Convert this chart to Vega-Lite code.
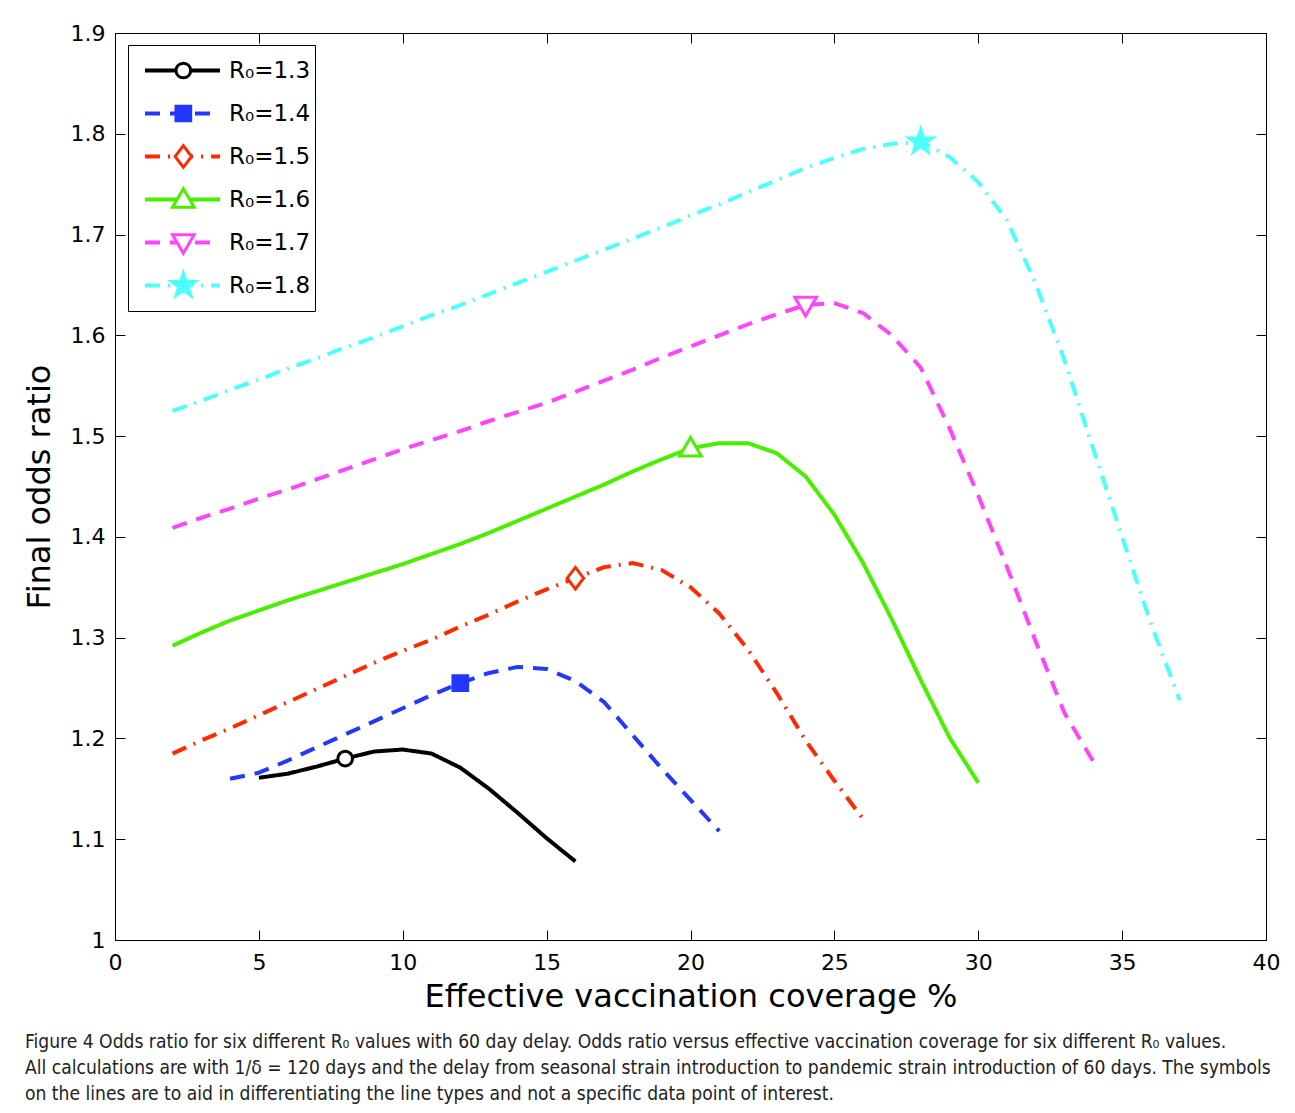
{
  "$schema": "https://vega.github.io/schema/vega-lite/v6.json",
  "width": 1151,
  "height": 907,
  "autosize": {"type": "none"},
  "padding": {"left": 115, "top": 33, "right": 29, "bottom": 173},
  "background": "white",
  "title": {
    "text": [
      "Figure 4 Odds ratio for six different R₀ values with 60 day delay. Odds ratio versus effective vaccination coverage for six different R₀ values.",
      "All calculations are with 1/δ = 120 days and the delay from seasonal strain introduction to pandemic strain introduction of 60 days. The symbols",
      "on the lines are to aid in differentiating the line types and not a specific data point of interest."
    ],
    "orient": "bottom",
    "anchor": "start",
    "frame": "group",
    "dx": -90,
    "offset": 21,
    "font": "DejaVu Sans Condensed, Liberation Sans Narrow, sans-serif",
    "fontSize": 19.1,
    "fontWeight": "normal",
    "color": "#222222",
    "lineHeight": 26
  },
  "datasets": {
    "curves": [
      {"R0": 1.3, "x": 5, "y": 1.161}, {"R0": 1.3, "x": 6, "y": 1.165}, {"R0": 1.3, "x": 7, "y": 1.172}, {"R0": 1.3, "x": 8, "y": 1.180},
      {"R0": 1.3, "x": 9, "y": 1.187}, {"R0": 1.3, "x": 10, "y": 1.189}, {"R0": 1.3, "x": 11, "y": 1.185}, {"R0": 1.3, "x": 12, "y": 1.171},
      {"R0": 1.3, "x": 13, "y": 1.150}, {"R0": 1.3, "x": 14, "y": 1.126}, {"R0": 1.3, "x": 15, "y": 1.101}, {"R0": 1.3, "x": 16, "y": 1.078},
      {"R0": 1.4, "x": 4, "y": 1.160}, {"R0": 1.4, "x": 5, "y": 1.166}, {"R0": 1.4, "x": 6, "y": 1.178}, {"R0": 1.4, "x": 7, "y": 1.191},
      {"R0": 1.4, "x": 8, "y": 1.204}, {"R0": 1.4, "x": 9, "y": 1.217}, {"R0": 1.4, "x": 10, "y": 1.230}, {"R0": 1.4, "x": 11, "y": 1.243},
      {"R0": 1.4, "x": 12, "y": 1.255}, {"R0": 1.4, "x": 13, "y": 1.265}, {"R0": 1.4, "x": 14, "y": 1.271}, {"R0": 1.4, "x": 15, "y": 1.269},
      {"R0": 1.4, "x": 16, "y": 1.257}, {"R0": 1.4, "x": 17, "y": 1.236}, {"R0": 1.4, "x": 18, "y": 1.203}, {"R0": 1.4, "x": 19, "y": 1.170},
      {"R0": 1.4, "x": 20, "y": 1.139}, {"R0": 1.4, "x": 21, "y": 1.108},
      {"R0": 1.5, "x": 2, "y": 1.185}, {"R0": 1.5, "x": 3, "y": 1.198}, {"R0": 1.5, "x": 4, "y": 1.210}, {"R0": 1.5, "x": 5, "y": 1.223},
      {"R0": 1.5, "x": 6, "y": 1.236}, {"R0": 1.5, "x": 7, "y": 1.249}, {"R0": 1.5, "x": 8, "y": 1.262}, {"R0": 1.5, "x": 9, "y": 1.275},
      {"R0": 1.5, "x": 10, "y": 1.287}, {"R0": 1.5, "x": 11, "y": 1.298}, {"R0": 1.5, "x": 12, "y": 1.311}, {"R0": 1.5, "x": 13, "y": 1.323},
      {"R0": 1.5, "x": 14, "y": 1.336}, {"R0": 1.5, "x": 15, "y": 1.348}, {"R0": 1.5, "x": 16, "y": 1.359}, {"R0": 1.5, "x": 17, "y": 1.370},
      {"R0": 1.5, "x": 18, "y": 1.374}, {"R0": 1.5, "x": 19, "y": 1.367}, {"R0": 1.5, "x": 20, "y": 1.350}, {"R0": 1.5, "x": 21, "y": 1.324},
      {"R0": 1.5, "x": 22, "y": 1.288}, {"R0": 1.5, "x": 23, "y": 1.245}, {"R0": 1.5, "x": 24, "y": 1.198}, {"R0": 1.5, "x": 25, "y": 1.158},
      {"R0": 1.5, "x": 26, "y": 1.120},
      {"R0": 1.6, "x": 2, "y": 1.292}, {"R0": 1.6, "x": 3, "y": 1.305}, {"R0": 1.6, "x": 4, "y": 1.317}, {"R0": 1.6, "x": 5, "y": 1.327},
      {"R0": 1.6, "x": 6, "y": 1.337}, {"R0": 1.6, "x": 7, "y": 1.346}, {"R0": 1.6, "x": 8, "y": 1.355}, {"R0": 1.6, "x": 9, "y": 1.364},
      {"R0": 1.6, "x": 10, "y": 1.373}, {"R0": 1.6, "x": 11, "y": 1.383}, {"R0": 1.6, "x": 12, "y": 1.393}, {"R0": 1.6, "x": 13, "y": 1.404},
      {"R0": 1.6, "x": 14, "y": 1.416}, {"R0": 1.6, "x": 15, "y": 1.428}, {"R0": 1.6, "x": 16, "y": 1.440}, {"R0": 1.6, "x": 17, "y": 1.452},
      {"R0": 1.6, "x": 18, "y": 1.465}, {"R0": 1.6, "x": 19, "y": 1.477}, {"R0": 1.6, "x": 20, "y": 1.488}, {"R0": 1.6, "x": 21, "y": 1.493},
      {"R0": 1.6, "x": 22, "y": 1.493}, {"R0": 1.6, "x": 23, "y": 1.483}, {"R0": 1.6, "x": 24, "y": 1.460}, {"R0": 1.6, "x": 25, "y": 1.422},
      {"R0": 1.6, "x": 26, "y": 1.374}, {"R0": 1.6, "x": 27, "y": 1.318}, {"R0": 1.6, "x": 28, "y": 1.258}, {"R0": 1.6, "x": 29, "y": 1.201},
      {"R0": 1.6, "x": 30, "y": 1.156},
      {"R0": 1.7, "x": 2, "y": 1.409}, {"R0": 1.7, "x": 3, "y": 1.419}, {"R0": 1.7, "x": 4, "y": 1.428}, {"R0": 1.7, "x": 5, "y": 1.438},
      {"R0": 1.7, "x": 6, "y": 1.447}, {"R0": 1.7, "x": 7, "y": 1.457}, {"R0": 1.7, "x": 8, "y": 1.467}, {"R0": 1.7, "x": 9, "y": 1.477},
      {"R0": 1.7, "x": 10, "y": 1.487}, {"R0": 1.7, "x": 11, "y": 1.496}, {"R0": 1.7, "x": 12, "y": 1.505}, {"R0": 1.7, "x": 13, "y": 1.515},
      {"R0": 1.7, "x": 14, "y": 1.524}, {"R0": 1.7, "x": 15, "y": 1.533}, {"R0": 1.7, "x": 16, "y": 1.544}, {"R0": 1.7, "x": 17, "y": 1.555},
      {"R0": 1.7, "x": 18, "y": 1.566}, {"R0": 1.7, "x": 19, "y": 1.578}, {"R0": 1.7, "x": 20, "y": 1.589}, {"R0": 1.7, "x": 21, "y": 1.600},
      {"R0": 1.7, "x": 22, "y": 1.611}, {"R0": 1.7, "x": 23, "y": 1.621}, {"R0": 1.7, "x": 24, "y": 1.630}, {"R0": 1.7, "x": 25, "y": 1.632},
      {"R0": 1.7, "x": 26, "y": 1.622}, {"R0": 1.7, "x": 27, "y": 1.600}, {"R0": 1.7, "x": 28, "y": 1.568}, {"R0": 1.7, "x": 29, "y": 1.508},
      {"R0": 1.7, "x": 30, "y": 1.441}, {"R0": 1.7, "x": 31, "y": 1.370}, {"R0": 1.7, "x": 32, "y": 1.296}, {"R0": 1.7, "x": 33, "y": 1.225},
      {"R0": 1.7, "x": 34, "y": 1.177},
      {"R0": 1.8, "x": 2, "y": 1.525}, {"R0": 1.8, "x": 3, "y": 1.535}, {"R0": 1.8, "x": 4, "y": 1.546}, {"R0": 1.8, "x": 5, "y": 1.556},
      {"R0": 1.8, "x": 6, "y": 1.567}, {"R0": 1.8, "x": 7, "y": 1.577}, {"R0": 1.8, "x": 8, "y": 1.588}, {"R0": 1.8, "x": 9, "y": 1.598},
      {"R0": 1.8, "x": 10, "y": 1.609}, {"R0": 1.8, "x": 11, "y": 1.620}, {"R0": 1.8, "x": 12, "y": 1.630}, {"R0": 1.8, "x": 13, "y": 1.641},
      {"R0": 1.8, "x": 14, "y": 1.652}, {"R0": 1.8, "x": 15, "y": 1.663}, {"R0": 1.8, "x": 16, "y": 1.674}, {"R0": 1.8, "x": 17, "y": 1.685},
      {"R0": 1.8, "x": 18, "y": 1.696}, {"R0": 1.8, "x": 19, "y": 1.707}, {"R0": 1.8, "x": 20, "y": 1.719}, {"R0": 1.8, "x": 21, "y": 1.730},
      {"R0": 1.8, "x": 22, "y": 1.742}, {"R0": 1.8, "x": 23, "y": 1.754}, {"R0": 1.8, "x": 24, "y": 1.766}, {"R0": 1.8, "x": 25, "y": 1.776},
      {"R0": 1.8, "x": 26, "y": 1.785}, {"R0": 1.8, "x": 27, "y": 1.790}, {"R0": 1.8, "x": 28, "y": 1.792}, {"R0": 1.8, "x": 29, "y": 1.777},
      {"R0": 1.8, "x": 30, "y": 1.752}, {"R0": 1.8, "x": 31, "y": 1.714}, {"R0": 1.8, "x": 32, "y": 1.651}, {"R0": 1.8, "x": 33, "y": 1.575},
      {"R0": 1.8, "x": 34, "y": 1.487}, {"R0": 1.8, "x": 35, "y": 1.400}, {"R0": 1.8, "x": 36, "y": 1.314}, {"R0": 1.8, "x": 37, "y": 1.238}
    ],
    "markers": [
      {"R0": 1.3, "x": 8, "y": 1.180},
      {"R0": 1.4, "x": 12, "y": 1.255},
      {"R0": 1.5, "x": 16, "y": 1.359},
      {"R0": 1.6, "x": 20, "y": 1.488},
      {"R0": 1.7, "x": 24, "y": 1.630},
      {"R0": 1.8, "x": 28, "y": 1.792}
    ]
  },
  "layer": [
    {
      "data": {"name": "curves"},
      "mark": {"type": "line", "strokeWidth": 4, "strokeCap": "butt", "strokeJoin": "round"},
      "encoding": {
        "x": {
          "field": "x", "type": "quantitative",
          "scale": {"domain": [0, 40], "nice": false, "zero": false},
          "axis": {
            "orient": "bottom", "values": [0, 5, 10, 15, 20, 25, 30, 35, 40],
            "tickSize": -10, "labelPadding": 22, "labelFlush": false, "labelOverlap": false,
            "labelFont": "DejaVu Sans", "labelFontSize": 22,
            "title": "Effective vaccination coverage %", "titleFont": "DejaVu Sans", "titleFontSize": 32,
            "titleFontWeight": "normal", "titlePadding": 8
          }
        },
        "y": {
          "field": "y", "type": "quantitative",
          "scale": {"domain": [1, 1.9], "nice": false, "zero": false},
          "axis": {
            "orient": "left", "values": [1, 1.1, 1.2, 1.3, 1.4, 1.5, 1.6, 1.7, 1.8, 1.9],
            "labelExpr": "format(datum.value, '.1~f')",
            "tickSize": -10, "labelPadding": 20, "labelFlush": false, "labelOverlap": false,
            "labelFont": "DejaVu Sans", "labelFontSize": 22,
            "title": "Final odds ratio", "titleFont": "DejaVu Sans", "titleFontSize": 32,
            "titleFontWeight": "normal", "titlePadding": 14
          }
        },
        "color": {
          "field": "R0", "type": "nominal",
          "scale": {"range": ["#000000", "#2238ff", "#ff2a00", "#48f000", "#ff44ff", "#4cffff"]},
          "legend": {
            "title": null, "orient": "none", "legendX": 13, "legendY": 12, "direction": "vertical",
            "padding": 4, "clipHeight": 43, "rowPadding": 0,
            "symbolType": "stroke", "symbolSize": 5625, "symbolStrokeWidth": 4, "symbolOffset": 11,
            "labelOffset": 7, "labelFont": "DejaVu Sans", "labelFontSize": 23, "labelColor": "black",
            "labelExpr": "'R₀=' + datum.label", "strokeColor": "black"
          }
        },
        "strokeDash": {
          "field": "R0", "type": "nominal",
          "scale": {"range": [[1, 0], [15, 10], [15, 8, 2, 8], [1, 0], [15, 10], [15, 8, 2, 8]]},
          "legend": {
            "title": null, "orient": "none", "legendX": 13, "legendY": 12, "direction": "vertical",
            "padding": 4, "clipHeight": 43, "rowPadding": 0,
            "symbolType": "stroke", "symbolSize": 5625, "symbolStrokeWidth": 4, "symbolOffset": 11,
            "labelOffset": 7, "labelFont": "DejaVu Sans", "labelFontSize": 23, "labelColor": "black",
            "labelExpr": "'R₀=' + datum.label", "strokeColor": "black"
          }
        }
      }
    },
    {
      "data": {"name": "markers"},
      "mark": {"type": "point", "filled": true, "size": 300, "strokeWidth": 3, "opacity": 1},
      "encoding": {
        "x": {
          "field": "x", "type": "quantitative",
          "axis": {"orient": "top", "values": [0, 5, 10, 15, 20, 25, 30, 35, 40], "tickSize": -10, "labels": false, "title": null}
        },
        "y": {
          "field": "y", "type": "quantitative",
          "axis": {"orient": "right", "values": [1, 1.1, 1.2, 1.3, 1.4, 1.5, 1.6, 1.7, 1.8, 1.9], "tickSize": -10, "labels": false, "title": null}
        },
        "shape": {
          "field": "R0", "type": "nominal",
          "scale": {"range": [
            "M0.85,0A0.85,0.85,0,1,1,-0.85,0A0.85,0.85,0,1,1,0.85,0Z",
            "M-0.85,-0.85H0.85V0.85H-0.85Z",
            "M0,-1.25L0.95,0L0,1.25L-0.95,0Z",
            "M0,-1.25L1.25,0.9L-1.25,0.9Z",
            "M0,1.25L1.25,-0.9L-1.25,-0.9Z",
            "M0,-1.45L0.326,-0.448L1.379,-0.448L0.526,0.171L0.853,1.173L0,0.554L-0.853,1.173L-0.526,0.171L-1.379,-0.448L-0.326,-0.448Z"
          ]},
          "legend": {
            "title": null, "orient": "none", "legendX": 13, "legendY": 12, "direction": "vertical",
            "padding": 4, "clipHeight": 43, "rowPadding": 0,
            "symbolSize": 300, "symbolStrokeWidth": 3, "symbolOffset": 39.84,
            "labelOffset": 7, "labelFontSize": 23, "labelExpr": "''"
          }
        },
        "stroke": {
          "field": "R0", "type": "nominal",
          "scale": {"range": ["#000000", "#2238ff", "#ff2a00", "#48f000", "#ff44ff", "#4cffff"]},
          "legend": {
            "title": null, "orient": "none", "legendX": 13, "legendY": 12, "direction": "vertical",
            "padding": 4, "clipHeight": 43, "rowPadding": 0,
            "symbolSize": 300, "symbolStrokeWidth": 3, "symbolOffset": 39.84,
            "labelOffset": 7, "labelFontSize": 23, "labelExpr": "''"
          }
        },
        "fill": {
          "field": "R0", "type": "nominal",
          "scale": {"range": ["#ffffff", "#2238ff", "#ffffff", "#ffffff", "#ffffff", "#4cffff"]},
          "legend": {
            "title": null, "orient": "none", "legendX": 13, "legendY": 12, "direction": "vertical",
            "padding": 4, "clipHeight": 43, "rowPadding": 0,
            "symbolSize": 300, "symbolStrokeWidth": 3, "symbolOffset": 39.84,
            "labelOffset": 7, "labelFontSize": 23, "labelExpr": "''"
          }
        }
      }
    }
  ],
  "resolve": {"axis": {"x": "independent", "y": "independent"}},
  "config": {
    "view": {"stroke": "black", "strokeWidth": 1},
    "axis": {
      "grid": false, "domainColor": "black", "domainWidth": 1, "tickColor": "black", "tickWidth": 1,
      "labelColor": "black", "titleColor": "black"
    }
  }
}
